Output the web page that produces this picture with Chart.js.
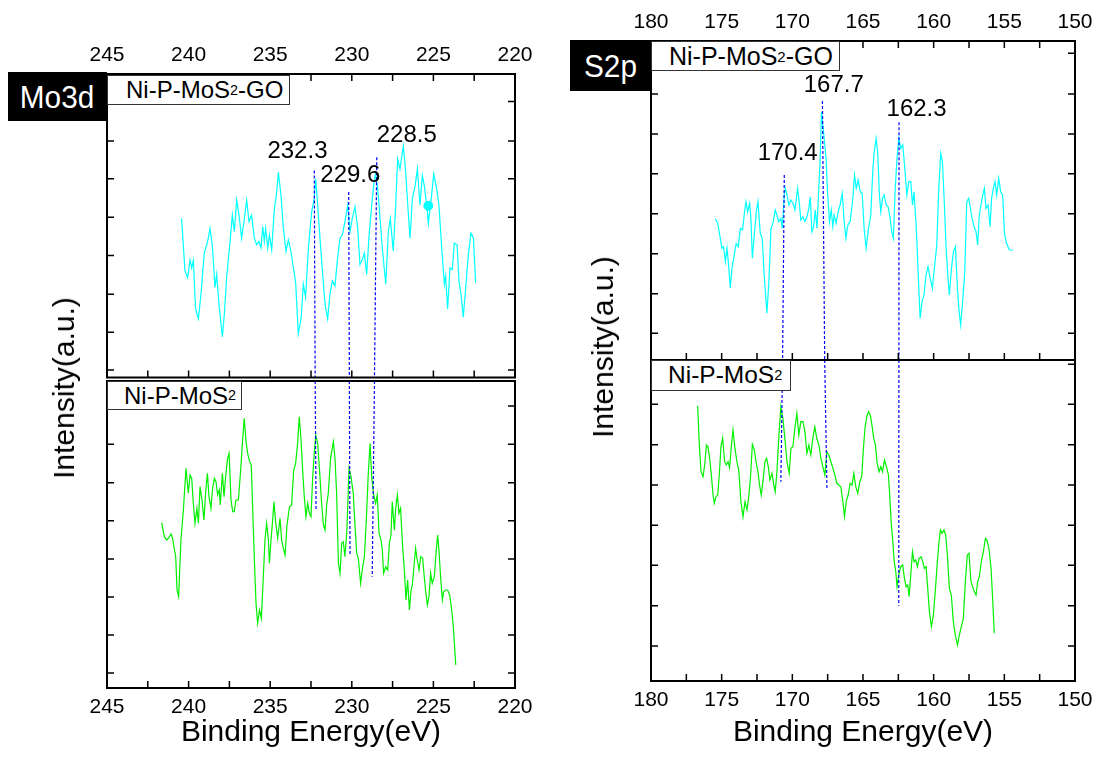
<!DOCTYPE html>
<html><head><meta charset="utf-8">
<script src="https://cdn.jsdelivr.net/npm/chart.js@4/dist/chart.umd.min.js"></script>
<style>
html,body{margin:0;padding:0;background:#fff;}
body{width:1102px;height:758px;position:relative;overflow:hidden;font-family:'Liberation Sans',Arial,sans-serif;color:#000;}
canvas{position:absolute;}
.tag{position:absolute;background:#000;color:#fff;font-size:32px;display:flex;align-items:center;justify-content:center;line-height:1;}
.tag span{display:inline-block;transform:scaleX(0.93);}
.leg{position:absolute;box-sizing:border-box;background:#fff;border:1px solid #333;display:flex;align-items:center;line-height:1;white-space:nowrap;}
.leg sub{font-size:0.6em;vertical-align:-0.08em;line-height:1;}
.ylab{position:absolute;font-size:30px;line-height:1;white-space:nowrap;transform:translate(-50%,-50%) rotate(-90deg);}
</style></head>
<body>
<canvas id="c1" width="551" height="383" style="left:0;top:0"></canvas>
<canvas id="c2" width="551" height="379" style="left:0;top:379px"></canvas>
<canvas id="c3" width="551" height="362" style="left:551px;top:0"></canvas>
<canvas id="c4" width="551" height="400" style="left:551px;top:358px"></canvas>

<div class="tag" style="left:8px;top:72px;width:99px;height:49px"><span>Mo3d</span></div>
<div class="tag" style="left:570px;top:40px;width:80px;height:51px"><span>S2p</span></div>
<div class="leg" style="left:107px;top:75px;width:183px;height:30px;font-size:24px;padding-left:18px">Ni-P-MoS<sub>2</sub>-GO</div>
<div class="leg" style="left:107px;top:381px;width:135px;height:29px;font-size:24px;padding-left:16px">Ni-P-MoS<sub>2</sub></div>
<div class="leg" style="left:651px;top:41px;width:189px;height:30px;font-size:25px;padding-left:17px">Ni-P-MoS<sub>2</sub>-GO</div>
<div class="leg" style="left:651px;top:360px;width:140px;height:31px;font-size:24.5px;padding-left:16px">Ni-P-MoS<sub>2</sub></div>
<div class="ylab" style="left:63.6px;top:387.5px">Intensity(a.u.)</div>
<div class="ylab" style="left:603px;top:346.7px">Intensity(a.u.)</div>

<script>
// ---------------- DATA ----------------
// Mo3d panel, x ticks (binding energy, eV)
const moMajorTicks = [245, 240, 235, 230, 225, 220];
const moMinorTicks = [242.5, 237.5, 232.5, 227.5, 222.5];
// S2p panel, x ticks
const sMajorTicks = [180, 175, 170, 165, 160, 155, 150];
const sMinorTicks = [177.5, 172.5, 167.5, 162.5, 157.5, 152.5];

// Mo3d, Ni-P-MoS2-GO (cyan)
const moGoEnergy = [
 240.43,240.22,240.06,239.91,239.81,239.71,239.57,239.40,239.24,239.04,
 238.89,238.79,238.69,238.55,238.38,238.28,238.14,237.93,237.81,237.67,
 237.46,237.32,237.20,237.05,236.91,236.75,236.58,236.44,236.30,236.14,
 235.97,235.83,235.69,235.56,235.46,235.36,235.28,235.15,235.05,234.91,
 234.75,234.60,234.50,234.34,234.19,234.03,233.89,233.73,233.58,233.44,
 233.28,233.11,232.97,232.83,232.66,232.46,232.30,232.21,232.09,231.95,
 231.80,231.64,231.48,231.34,231.19,231.03,230.87,230.72,230.58,230.42,
 230.25,230.11,229.97,229.80,229.64,229.50,229.35,229.23,229.09,228.94,
 228.78,228.64,228.54,228.41,228.27,228.13,227.92,227.76,227.64,227.46,
 227.31,227.19,227.05,226.84,226.70,226.53,226.43,226.29,226.13,225.98,
 225.82,225.68,225.56,225.41,225.31,225.15,224.98,224.80,224.66,224.49,
 224.33,224.25,224.13,223.98,223.84,223.72,223.55,223.43,223.31,223.17,
 223.02,222.86,222.70,222.55,222.41];
const moGoIntensity = [
 161,107.7,101,119.3,111,118.3,69.3,59.3,84.3,126,
 134.3,141,151,134.3,91,104.3,74.3,41,64.3,101,
 137.7,164.3,147.7,179.3,164.3,141,161,179.3,157.7,164.3,
 141,134.3,137.7,131,152.7,137.7,151,131,144.3,129.3,
 169.3,187.7,207.7,184.3,151,127.7,139.3,127.7,111,96,
 44.3,59.3,94.3,81,131,167.7,181,201,174.3,141,
 107.7,74.3,59.3,84.3,97.7,92.7,121,141,144.3,157.7,
 174.3,147.7,161,172.7,151,114.3,119.3,126,104.3,144.3,
 174.3,197.7,206,191,161,131,94.3,147.7,161,127.7,
 174.3,221,211,234.3,207.7,164.3,141,181,192.7,211,
 174.3,204.3,194.3,174.3,156,177.7,206,191,174.3,131,
 94.3,102.7,69.3,111,109.3,136,134.3,97.7,84.3,61,
 91,124.3,146,141,96];
const moGoDotEnergy = [225.31];
const moGoDotIntensity = [173.7];

// Mo3d, Ni-P-MoS2 (green)
const moEnergy = [
 241.65,241.49,241.34,241.20,241.08,240.98,240.90,240.79,240.71,240.61,
 240.47,240.32,240.16,240.02,239.91,239.81,239.71,239.61,239.49,239.40,
 239.30,239.18,239.06,238.96,238.85,238.75,238.63,238.53,238.42,238.32,
 238.22,238.12,238.06,237.93,237.83,237.73,237.61,237.52,237.40,237.30,
 237.20,237.10,236.95,236.81,236.69,236.59,236.48,236.38,236.26,236.16,
 236.07,235.97,235.87,235.77,235.65,235.54,235.44,235.32,235.22,235.11,
 235.05,234.95,234.85,234.77,234.67,234.54,234.40,234.30,234.17,234.09,
 233.97,233.82,233.69,233.56,233.44,233.32,233.22,233.11,232.99,232.91,
 232.81,232.70,232.60,232.50,232.40,232.30,232.21,232.09,231.95,231.85,
 231.74,231.64,231.54,231.44,231.30,231.13,231.03,230.93,230.82,230.72,
 230.62,230.52,230.42,230.30,230.17,230.05,229.91,229.80,229.70,229.60,
 229.46,229.36,229.23,229.11,228.99,228.88,228.78,228.66,228.54,228.44,
 228.33,228.21,228.13,228.05,227.92,227.80,227.70,227.60,227.52,227.39,
 227.31,227.21,227.11,227.01,226.90,226.78,226.68,226.58,226.47,226.37,
 226.29,226.19,226.09,225.99,225.88,225.78,225.66,225.56,225.47,225.37,
 225.27,225.17,225.07,224.94,224.84,224.74,224.66,224.56,224.45,224.37,
 224.25,224.13,224.00,223.88,223.78,223.63];
const moIntensity = [
 165.3,151.3,148,150.7,154,149.7,141.3,131.3,98,91.3,
 148,178,219.7,194.7,213,209.7,184.7,164.7,179.7,164.7,
 201.3,188,168,194.7,214.7,191.3,179.7,199.7,209.7,206.3,
 193,198,183,214.7,191.3,211.3,229.7,234.7,188,176.3,
 176.3,188,188,218,248,269.7,246.3,234.7,226.3,223,
 178,128,84.7,64.7,78,69.7,104.7,148,164.7,148,
 124.7,148,168,186.3,166.3,149.7,169.7,148,138,133,
 163,181.3,183,218,224.7,244.7,271.3,248,211.3,191.3,
 171.3,184.7,174.7,171.3,209.7,234.7,253,244.7,211.3,184.7,
 163,158,183,194.7,229.7,246.3,229.7,194.7,124.7,114.7,
 144.7,146.3,131.3,158,219.7,211.3,194.7,161.3,134.7,129.7,
 104.7,118,131.3,168,214.7,244.7,211.3,193,184.7,193,
 154.7,148,138,114.7,121.3,118,144.7,153,186.3,158,
 179.7,193,174.7,179.7,144.7,118,88,108,78,98,
 103,121.3,139.7,128,118,131.3,129.7,111.3,96.3,83,
 91.3,114.7,104.7,111.3,134.7,153,138,111.3,88,96.3,
 98,98,93,78,61.3,23];

// S2p, Ni-P-MoS2-GO (cyan)
const sGoEnergy = [
 175.45,175.28,175.14,174.98,174.86,174.74,174.62,174.51,174.39,174.27,
 174.11,173.97,173.82,173.68,173.52,173.38,173.28,173.16,173.02,172.93,
 172.83,172.69,172.55,172.43,172.27,172.13,171.99,171.80,171.66,171.51,
 171.37,171.21,171.09,170.97,170.81,170.71,170.57,170.50,170.38,170.24,
 170.10,169.96,169.81,169.63,169.49,169.40,169.25,169.11,168.97,168.83,
 168.73,168.62,168.50,168.38,168.26,168.15,168.03,167.94,167.84,167.72,
 167.60,167.51,167.37,167.25,167.13,167.04,166.90,166.76,166.62,166.47,
 166.33,166.21,166.07,165.91,165.74,165.60,165.48,165.34,165.20,165.06,
 164.92,164.78,164.61,164.45,164.30,164.19,164.07,163.95,163.84,163.74,
 163.62,163.50,163.36,163.22,163.08,162.96,162.85,162.73,162.61,162.47,
 162.33,162.19,162.04,161.90,161.76,161.62,161.50,161.39,161.24,161.08,
 160.96,160.82,160.68,160.54,160.40,160.25,160.09,159.95,159.78,159.64,
 159.50,159.38,159.24,159.12,159.00,158.89,158.74,158.60,158.46,158.32,
 158.20,158.09,157.95,157.80,157.66,157.52,157.38,157.26,157.14,157.00,
 156.89,156.77,156.65,156.53,156.41,156.30,156.15,156.01,155.90,155.78,
 155.66,155.54,155.40,155.26,155.12,154.98,154.84,154.65,154.41];
const sGoIntensity = [
 141,136.7,125,111.7,113.3,98.3,111.7,95,71.7,91.7,
 105,116.7,113.3,131.7,130,148.3,158.3,148.3,156.7,141.7,
 101.7,125,148.3,158.3,126.7,121.7,85,46.7,78.3,131.7,
 136.7,150,145,138.3,141.7,131.7,165,171.7,165,155,
 160,156.7,150,171.7,155,140,143.3,138.3,143.3,151.7,
 163.3,128.3,133.3,150,131.7,165,201.7,248.3,235,218.3,
 198.3,168.3,138.3,150,133.3,145,136.7,148.3,155,166.7,
 138.3,121.7,135,138.3,158.3,185,171.7,180,168.3,166.7,
 131.7,111.7,131.7,145,191.7,210,221.7,205,165,148.3,
 161.7,165,155,153.3,141.7,128.3,121.7,168.3,198.3,221.7,
 211.7,215,191.7,165,178.3,178.3,155,168.3,135,81.7,
 41.7,58.3,65,85,93.3,81.7,71.7,91.7,115,171.7,
 206.7,198.3,155,111.7,85,65,91.7,108.3,113.3,71.7,
 48.3,35,58.3,88.3,158.3,161.7,150,140,133.3,128.3,
 115,145,155,165,171.7,151.7,155,133.3,161.7,171.7,
 178.3,165,181.7,168.3,165,125,116.7,110,110];

// S2p, Ni-P-MoS2 (green)
const sEnergy = [
 176.70,176.58,176.46,176.32,176.20,176.08,175.97,175.85,175.73,175.61,
 175.52,175.40,175.28,175.17,175.05,174.93,174.79,174.67,174.55,174.44,
 174.32,174.20,174.06,173.92,173.78,173.64,173.49,173.35,173.21,173.07,
 172.95,172.83,172.69,172.55,172.43,172.32,172.20,172.08,171.94,171.82,
 171.70,171.59,171.44,171.33,171.21,171.09,170.95,170.81,170.67,170.53,
 170.38,170.22,170.10,169.96,169.82,169.68,169.54,169.40,169.25,169.11,
 168.97,168.83,168.69,168.55,168.41,168.27,168.12,167.98,167.84,167.70,
 167.56,167.42,167.27,167.13,166.99,166.85,166.71,166.57,166.42,166.31,
 166.19,166.05,165.91,165.77,165.65,165.51,165.37,165.23,165.09,164.97,
 164.85,164.73,164.61,164.47,164.35,164.24,164.12,164.00,163.86,163.74,
 163.62,163.48,163.34,163.20,163.11,163.01,162.89,162.80,162.68,162.59,
 162.47,162.33,162.19,162.07,161.95,161.83,161.74,161.62,161.50,161.39,
 161.27,161.15,161.03,160.89,160.77,160.66,160.54,160.42,160.30,160.16,
 160.02,159.88,159.74,159.62,159.52,159.41,159.27,159.15,159.03,158.89,
 158.75,158.61,158.47,158.32,158.18,158.04,157.90,157.76,157.62,157.50,
 157.36,157.24,157.12,157.00,156.89,156.77,156.63,156.48,156.34,156.23,
 156.09,155.94,155.83,155.71];
const sIntensity = [
 275.3,236,209.3,204.3,216,236,234.3,222.7,206,186,
 177.7,184.3,186,206,234.3,242.7,219.3,216,219.3,213.3,
 234.3,251,232.7,219.3,209.3,179.3,164.3,179.3,171,186,
 206,236.7,231,217.7,209.3,196,186,199.3,219.3,222.7,
 214.3,201,207.7,197.7,189.3,209.3,246,274.3,262.7,242.7,
 219.3,207.7,232.7,234.3,252.7,267.7,246,259.3,259.3,249.3,
 227.7,236,226,242.7,254.3,242.7,236,222.7,214.3,206,
 229.3,226,219.3,212.7,206,197.7,196,194.3,179.3,164.3,
 179.3,186,197.7,196,207.7,194.3,187.7,199.3,204.3,232.7,
 254.3,264.3,269.3,265.3,254.3,242.7,236,217.7,209.3,214.3,
 209.3,221,214.3,206,186,159.3,139.3,121,109.3,94.3,
 106,114.3,116,102.7,94.3,96,84.3,106,129.3,119.3,
 121,114.3,122.7,124.3,119.3,112.7,114.3,92.7,69.3,54.3,
 66,91,119.3,139.3,151,147.7,151,146,126,92.7,
 86,59.3,46,36,46,54.3,62.7,99.3,126,127.7,
 99.3,94.3,89.3,86,99.3,104.3,119.3,129.3,142.7,141,
 132.7,112.7,82.7,47.7];

// Peak markers
const moPeakLabels = ['232.3', '229.6', '228.5'];
const sPeakLabels = ['170.4', '167.7', '162.3'];

// ---------------- ANNOTATION GEOMETRY (data coordinates) ----------------
const moPeakGeom = {
  eTop: [232.30, 230.19, 228.47], vTop: [209.3, 187.7, 222.7],
  eBot: [232.19, 230.11, 228.75], vBot: [178, 133, 111.3],
  labE: [233.33, 230.09, 226.63], labV: [228.5, 204, 245.2]
};
const sPeakGeom = {
  eTop: [170.57, 167.87, 162.45], vTop: [185, 259, 237.7],
  eBot: [170.81, 167.55, 162.47], vBot: [199.3, 191, 75.3],
  labE: [170.33, 167.07, 161.21], labV: [207, 275, 250.5]
};
// y tick marks (no labels), arbitrary intensity units
const moTopYTicks = [279.3, 239.3, 201, 162, 123.3, 84.3, 45.7, 7.7];
const moBotYTicks = [282, 243.7, 205.3, 167.3, 129, 91, 53, 15];
const sTopYTicks = [306.7, 266, 226, 186.3, 146.3, 106.3, 66.3, 26.7];
const sBotYTicks = [316.7, 276.7, 236.3, 196, 155.7, 115.7, 75.3, 35];

// ---------------- CHARTS ----------------
Chart.defaults.font.family = "'Liberation Sans', Arial, sans-serif";
Chart.defaults.color = '#000';

function zip(xs, ys) { return xs.map((x, i) => ({x: x, y: ys[i]})); }

function framePlugin(o) {
  return {
    id: 'xpsFrame',
    afterDatasetsDraw(chart) {
      const ctx = chart.ctx, a = chart.chartArea;
      const xs = chart.scales.x, ys = chart.scales.y;
      ctx.save();
      // dashed peak lines
      const g = o.peaks;
      ctx.strokeStyle = '#0000ff';
      ctx.lineWidth = 1.2;
      ctx.setLineDash([3, 2]);
      for (let i = 0; i < g.eTop.length; i++) {
        const mid = (g.eTop[i] + g.eBot[i]) / 2;
        ctx.beginPath();
        if (o.part === 'top') {
          ctx.moveTo(xs.getPixelForValue(g.eTop[i]), ys.getPixelForValue(g.vTop[i]));
          ctx.lineTo(xs.getPixelForValue(mid), a.bottom);
        } else {
          ctx.moveTo(xs.getPixelForValue(mid), a.top);
          ctx.lineTo(xs.getPixelForValue(g.eBot[i]), ys.getPixelForValue(g.vBot[i]));
        }
        ctx.stroke();
      }
      ctx.setLineDash([]);
      // frame
      ctx.strokeStyle = '#000';
      ctx.lineWidth = 2;
      ctx.strokeRect(a.left, a.top, a.right - a.left, a.bottom - a.top);
      // ticks (inward)
      ctx.lineWidth = 1.5;
      const L = 7;
      ctx.beginPath();
      o.xTicks.forEach(v => {
        const p = xs.getPixelForValue(v);
        if (o.xEdges.includes('top')) { ctx.moveTo(p, a.top); ctx.lineTo(p, a.top + L); }
        if (o.xEdges.includes('bottom')) { ctx.moveTo(p, a.bottom); ctx.lineTo(p, a.bottom - L); }
      });
      o.yTicks.forEach(v => {
        const p = ys.getPixelForValue(v);
        ctx.moveTo(a.left, p); ctx.lineTo(a.left + L, p);
        ctx.moveTo(a.right, p); ctx.lineTo(a.right - L, p);
      });
      ctx.stroke();
      // peak labels
      if (o.part === 'top') {
        ctx.fillStyle = '#000';
        ctx.font = "24px 'Liberation Sans', Arial, sans-serif";
        ctx.textAlign = 'center';
        ctx.textBaseline = 'middle';
        o.labels.forEach((t, i) => {
          ctx.fillText(t, xs.getPixelForValue(g.labE[i]), ys.getPixelForValue(g.labV[i]));
        });
      }
      ctx.restore();
    }
  };
}

function buildChart(id, o) {
  return new Chart(document.getElementById(id), {
    type: 'line',
    data: {datasets: o.datasets},
    options: {
      responsive: false, animation: false, devicePixelRatio: 1, events: [],
      layout: {padding: o.padding},
      plugins: {legend: {display: false}, tooltip: {enabled: false}},
      scales: {
        x: {
          type: 'linear', position: o.xPos, min: o.xMin, max: o.xMax, reverse: true,
          grid: {display: false, drawTicks: false}, border: {display: false},
          ticks: {stepSize: 5, autoSkip: false, maxRotation: 0, minRotation: 0,
                  font: {size: 21}, color: '#000', padding: o.tickPad},
          title: {display: !!o.title, text: o.title || '', font: {size: 30}, color: '#000',
                  padding: {top: 0, bottom: 7}},
          afterFit: (s) => { s.height = o.axisH; }
        },
        y: {type: 'linear', display: false, min: 0, max: o.yMax}
      }
    },
    plugins: [framePlugin(o)]
  });
}

const lineStyle = (c) => ({borderColor: c, backgroundColor: c, borderWidth: 1.2,
  pointRadius: 0, tension: 0, fill: false});

// Mo3d top: Ni-P-MoS2-GO
buildChart('c1', {
  datasets: [
    Object.assign({data: zip(moGoEnergy, moGoIntensity)}, lineStyle('#00ffff')),
    {data: zip(moGoDotEnergy, moGoDotIntensity), showLine: false, pointRadius: 4.5,
     pointBackgroundColor: '#00ffff', pointBorderColor: '#00ffff', borderColor: '#00ffff'}
  ],
  padding: {left: 107, right: 36, top: 0, bottom: 2},
  xPos: 'top', xMin: 220, xMax: 245, tickPad: 6.5, axisH: 74, yMax: 307,
  part: 'top', xTicks: moMajorTicks.concat(moMinorTicks), xEdges: ['top', 'bottom'],
  yTicks: moTopYTicks, peaks: moPeakGeom, labels: moPeakLabels
});
// Mo3d bottom: Ni-P-MoS2
buildChart('c2', {
  datasets: [Object.assign({data: zip(moEnergy, moIntensity)}, lineStyle('#00f000'))],
  padding: {left: 107, right: 36, top: 2, bottom: 0},
  xPos: 'bottom', xMin: 220, xMax: 245, tickPad: 7, axisH: 70, yMax: 307,
  title: 'Binding Energy(eV)',
  part: 'bottom', xTicks: moMajorTicks.concat(moMinorTicks), xEdges: ['bottom'],
  yTicks: moBotYTicks, peaks: moPeakGeom, labels: moPeakLabels
});
// S2p top: Ni-P-MoS2-GO
buildChart('c3', {
  datasets: [Object.assign({data: zip(sGoEnergy, sGoIntensity)}, lineStyle('#00ffff'))],
  padding: {left: 100, right: 27, top: 0, bottom: 2},
  xPos: 'top', xMin: 150, xMax: 180, tickPad: 6.5, axisH: 41, yMax: 319,
  part: 'top', xTicks: sMajorTicks.concat(sMinorTicks), xEdges: ['top', 'bottom'],
  yTicks: sTopYTicks, peaks: sPeakGeom, labels: sPeakLabels
});
// S2p bottom: Ni-P-MoS2
buildChart('c4', {
  datasets: [Object.assign({data: zip(sEnergy, sIntensity)}, lineStyle('#00f000'))],
  padding: {left: 100, right: 27, top: 2, bottom: 0},
  xPos: 'bottom', xMin: 150, xMax: 180, tickPad: 7, axisH: 77, yMax: 321,
  title: 'Binding Energy(eV)',
  part: 'bottom', xTicks: sMajorTicks.concat(sMinorTicks), xEdges: ['bottom'],
  yTicks: sBotYTicks, peaks: sPeakGeom, labels: sPeakLabels
});
</script>
</body></html>
